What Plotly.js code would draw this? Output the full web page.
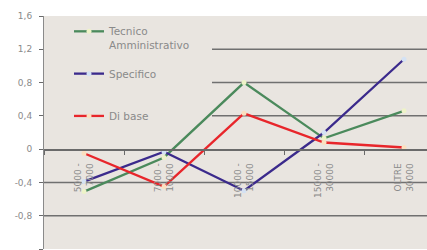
<!DOCTYPE html>
<html>
<head>
<meta charset="utf-8">
<script src="https://cdn.plot.ly/plotly-3.0.1.min.js"></script>
<style>
  html, body { margin: 0; padding: 0; background: #ffffff; }
  #chart { width: 427px; height: 250px; }
</style>
</head>
<body>
<div id="chart"></div>
<script>
var categories = ['5000 -<br>7000', '7000 -<br>10000', '10000 -<br>15000', '15000 -<br>30000', 'OLTRE<br>30000'];
var seriesNames = ['Tecnico<br>Amministrativo', 'Specifico<br>\u00a0', 'Di base<br>\u00a0'];
var tecnico = [-0.51, -0.1, 0.8, 0.13, 0.46];
var specifico = [-0.39, -0.03, -0.5, 0.2, 1.08];
var diBase = [-0.05, -0.45, 0.43, 0.08, 0.02];
var yTickVals = [-1.2, -0.8, -0.4, 0, 0.4, 0.8, 1.2, 1.6];
var yTickText = ['-1,2', '-0,8', '-0,4', '0', '0,4', '0,8', '1,2', '1,6'];

var lineColors = ['#4b8a5c', '#3b2a8c', '#e8262b'];
var markerColors = ['#eef3c8', '#d4e2f4', '#fbe0c0'];
var seriesValues = [tecnico, specifico, diBase];

var traces = seriesValues.map(function (vals, i) {
  return {
    type: 'scatter',
    mode: 'lines+markers',
    x: categories,
    y: vals,
    name: seriesNames[i],
    legendgroup: 'g' + i,
    line: { color: lineColors[i], width: 2.3 },
    marker: { color: markerColors[i], size: 5, line: { width: 0 } },
    hoverinfo: 'skip'
  };
});

// horizontal gridlines: upper ones start right of the legend area, lower ones span the plot
var gridStartUpper = (212 - 44) / 383;
var gridShapes = yTickVals.filter(function (v) { return v !== 0 && v > -1.2 && v < 1.6; })
  .map(function (v) {
    return {
      type: 'line', layer: 'between',
      xref: 'paper', yref: 'y',
      x0: v > 0 ? gridStartUpper : 0, x1: 1,
      y0: v, y1: v,
      line: { color: '#707070', width: 1.5 }
    };
  });

var layout = {
  width: 427,
  height: 250,
  margin: { l: 44, r: 0, t: 16, b: 1, pad: 0 },
  paper_bgcolor: '#ffffff',
  plot_bgcolor: '#e9e5e0',
  font: { family: 'DejaVu Sans', size: 9, color: '#8a8a8a' },
  showlegend: true,
  shapes: gridShapes,
  legend: {
    x: 0, xanchor: 'left', y: 1 - 2 / 233, yanchor: 'top',
    bgcolor: 'rgba(0,0,0,0)',
    borderwidth: 0,
    indentation: 25,
    tracegroupgap: 12,
    valign: 'top',
    font: { family: 'DejaVu Sans', size: 10.5, color: '#8a8a8a' }
  },
  xaxis: {
    type: 'category',
    categoryorder: 'array',
    categoryarray: categories,
    range: [-0.5, 4.2875],
    anchor: 'free',
    position: 1.2 / 2.8,
    showline: true,
    linecolor: '#6a6a6a',
    linewidth: 1.5,
    ticks: 'outside',
    tickson: 'boundaries',
    ticklen: 4,
    tickcolor: '#6a6a6a',
    tickwidth: 1,
    tickangle: -90,
    ticklabelstandoff: 9,
    tickfont: { family: 'DejaVu Sans', size: 9, color: '#8a8a8a' },
    showgrid: false,
    zeroline: false,
    automargin: false,
    fixedrange: true
  },
  yaxis: {
    range: [-1.2, 1.6],
    tickmode: 'array',
    tickvals: yTickVals,
    ticktext: yTickText,
    showline: true,
    linecolor: '#8a8a8a',
    linewidth: 1,
    ticks: 'outside',
    ticklen: 4,
    tickcolor: '#6a6a6a',
    ticklabelstandoff: 5,
    showgrid: false,
    zeroline: false,
    tickfont: { family: 'DejaVu Sans', size: 9, color: '#8a8a8a' },
    automargin: false,
    fixedrange: true
  }
};

Plotly.newPlot('chart', traces, layout, { displayModeBar: false, staticPlot: true });
</script>
</body>
</html>
